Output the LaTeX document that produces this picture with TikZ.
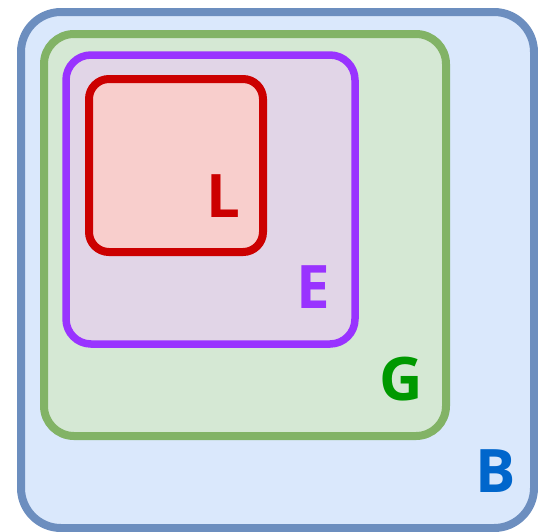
\documentclass[tikz,border=0pt]{standalone}
\usepackage{fontspec}
\setmainfont{Open Sans}
\definecolor{bfill}{HTML}{DAE8FC}\definecolor{bdraw}{HTML}{6C8EBF}\definecolor{btext}{HTML}{0066CC}
\definecolor{gfill}{HTML}{D5E8D4}\definecolor{gdraw}{HTML}{82B366}\definecolor{gtext}{HTML}{009900}
\definecolor{efill}{HTML}{E1D5E7}\definecolor{edraw}{HTML}{9933FF}
\definecolor{lfill}{HTML}{F8CECC}\definecolor{ldraw}{HTML}{CC0000}
\tikzset{
  setbox/.style={line width=8pt},
  lbl/.style={inner sep=0pt, font=\fontsize{60}{60}\selectfont\bfseries}
}
\begin{document}
\begin{tikzpicture}[x=1pt,y=-1pt]
\useasboundingbox (0,0) rectangle (538,531);
\draw[setbox, draw=bdraw, fill=bfill, rounded corners=40pt] (21,12) rectangle (534,528);
\draw[setbox, draw=gdraw, fill=gfill, rounded corners=30pt] (44,34) rectangle (446,436);
\draw[setbox, draw=edraw, fill=efill, rounded corners=25pt, line width=7.5pt] (66,55) rectangle (355,344);
\draw[setbox, draw=ldraw, fill=lfill, rounded corners=20pt] (89,79) rectangle (263,252);
\node[lbl, text=ldraw] (L) at (223,196) {L};
\node[lbl, text=edraw] (E) at (313,287) {E};
\node[lbl, text=gtext] (G) at (401,379) {G};
\node[lbl, text=btext] (B) at (496,471) {B};
\end{tikzpicture}
\end{document}
